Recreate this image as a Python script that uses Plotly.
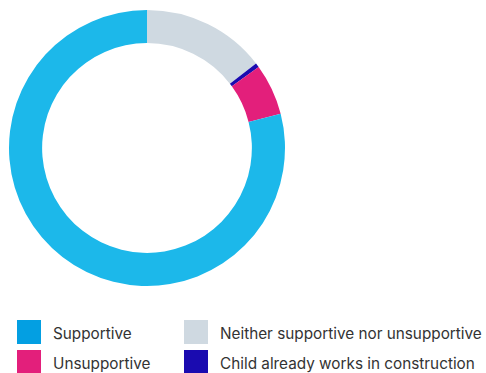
import plotly.graph_objects as go

# Response shares (%), listed clockwise from 12 o'clock
labels = ["Neither supportive nor unsupportive", "Child already works in construction",
          "Unsupportive", "Supportive"]
values = [14.5, 0.5, 6, 79]
slice_colors = ["#cfd9e1", "#1a0bb0", "#e31f7b", "#1cb8ea"]

# Legend entries in display order (row by row)
legend_labels = ["Supportive", "Neither supportive nor unsupportive",
                 "Unsupportive", "Child already works in construction"]
legend_colors = ["#039fe2", "#cfd9e1", "#e31f7b", "#1a0bb0"]

W, H = 486, 373

fig = go.Figure(go.Pie(
    labels=labels,
    values=values,
    hole=0.76,
    sort=False,
    direction="clockwise",
    rotation=0,
    marker=dict(colors=slice_colors, line=dict(width=0)),
    textinfo="none",
    hoverinfo="label+percent",
    showlegend=False,
    domain=dict(x=[9 / W, 285 / W], y=[1 - 286 / H, 1 - 10 / H]),
))

# Custom two-column legend
sw = 24
col_x = [17, 184]
row_y = [320, 350]
shapes, annotations = [], []
for i, (lab, col) in enumerate(zip(legend_labels, legend_colors)):
    r, c = divmod(i, 2)
    x0, y0 = col_x[c], row_y[r]
    shapes.append(dict(type="rect", xref="paper", yref="paper",
                       x0=x0 / W, x1=(x0 + sw) / W,
                       y0=1 - (y0 + sw) / H, y1=1 - y0 / H,
                       fillcolor=col, line=dict(width=0)))
    annotations.append(dict(text=lab, xref="paper", yref="paper",
                            x=(x0 + 34) / W, y=1 - (y0 + sw / 2 + 1) / H,
                            xanchor="left", yanchor="middle", showarrow=False,
                            font=dict(family="Inter", size=15.3, color="#333333")))

fig.update_layout(
    width=W, height=H,
    margin=dict(l=0, r=0, t=0, b=0),
    paper_bgcolor="white", plot_bgcolor="white",
    shapes=shapes, annotations=annotations,
)

fig.write_html("out.html")
